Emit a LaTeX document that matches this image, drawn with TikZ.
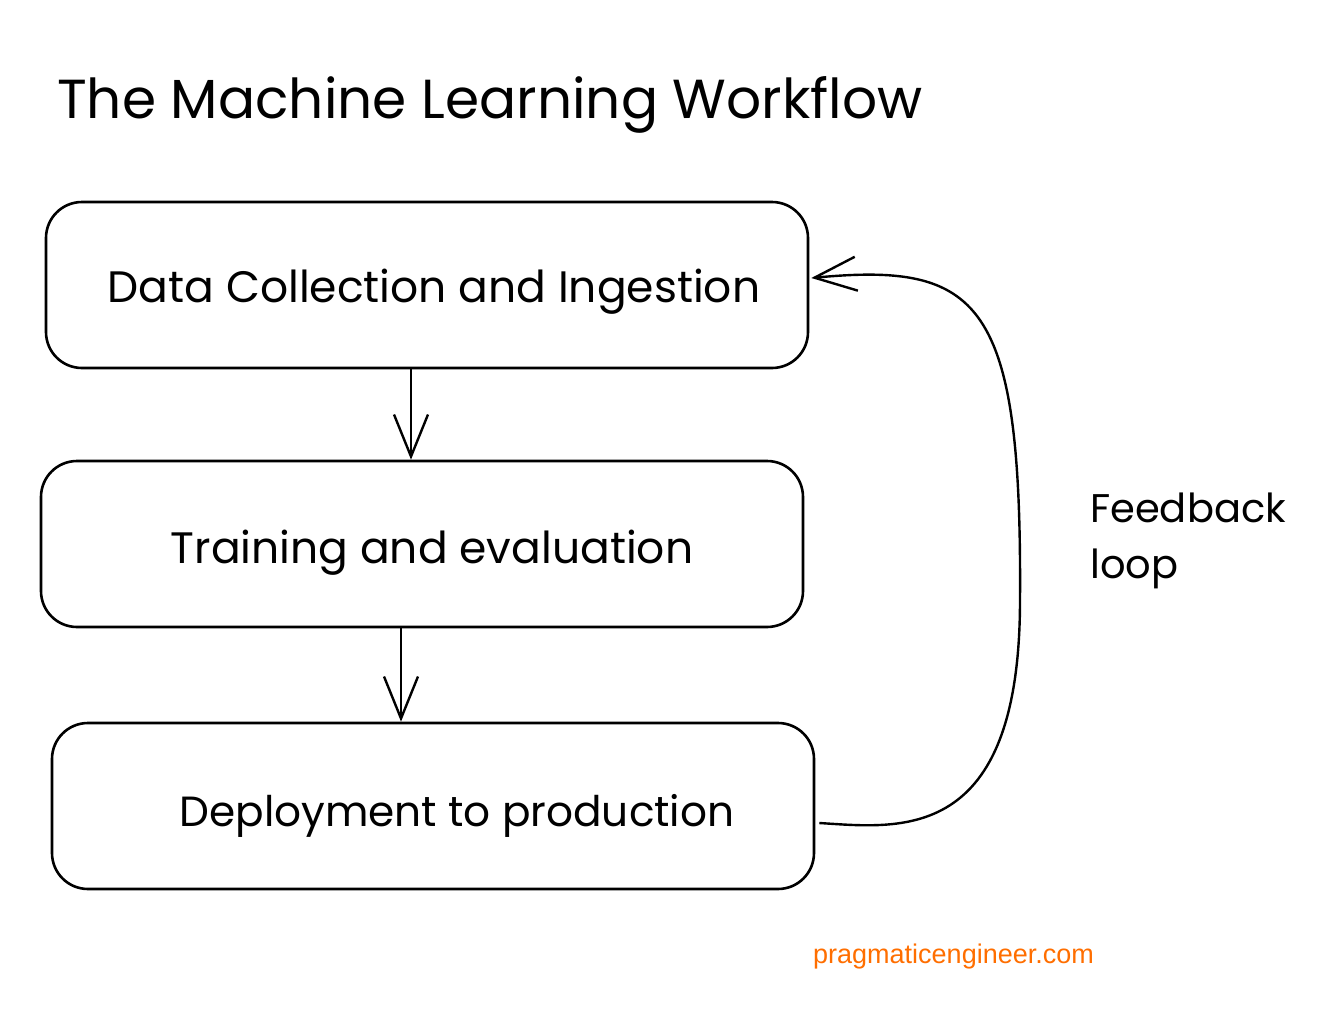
\documentclass[tikz,border=0pt]{standalone}
\usepackage{fontspec}
\setmainfont{Poppins}
\newfontfamily\webfont{Liberation Sans}
\usetikzlibrary{arrows.meta}
\definecolor{webor}{RGB}{255,110,0}
\begin{document}
\begin{tikzpicture}[x=1pt,y=-1pt,
  stagebox/.style={draw=black,line width=2.6pt,rounded corners=36pt,minimum width=762pt,minimum height=166pt,inner sep=0pt},
  lbl/.style={font=\fontsize{44}{52}\selectfont,anchor=base,inner sep=0pt},
  conn/.style={line width=2.4pt,-{Straight Barb[length=42pt,width=34pt,line width=2.4pt]}}]
\useasboundingbox (0,0) rectangle (1318,1036);
\node[font=\fontsize{55}{66}\selectfont,anchor=base west,inner sep=0pt] (title) at (57,118) {The Machine Learning Workflow};
\node[stagebox] (b1) at (427,285) {};
\node[stagebox] (b2) at (422,544) {};
\node[stagebox] (b3) at (433,806) {};
\node[lbl] (t1) at (434,302) {Data Collection and Ingestion};
\node[lbl] (t2) at (432,563) {Training and evaluation};
\node[lbl,font=\fontsize{42.2}{50}\selectfont] (t3) at (457,826) {Deployment to production};
\node[font=\fontsize{40}{56}\selectfont,anchor=base west,inner sep=0pt,align=left] (fb) at (1090,578) {Feedback\\loop};
\node[font=\webfont\fontsize{27}{32}\selectfont,text=webor,anchor=base west,inner sep=0pt] (web) at (813,963) {pragmaticengineer.com};
\coordinate (c1) at (411,0);
\coordinate (c2) at (401,0);
\draw[conn] (c1 |- b1.south) -- (c1 |- b2.north);
\draw[conn] (c2 |- b2.south) -- (c2 |- b3.north);
\draw[conn] ([yshift=-17pt,xshift=4pt]b3.east) .. controls (900,828) and (1020,845) .. (1020,600)
  .. controls (1022,300) and (980,262) .. ([yshift=7pt,xshift=2pt]b1.east);
\end{tikzpicture}
\end{document}
